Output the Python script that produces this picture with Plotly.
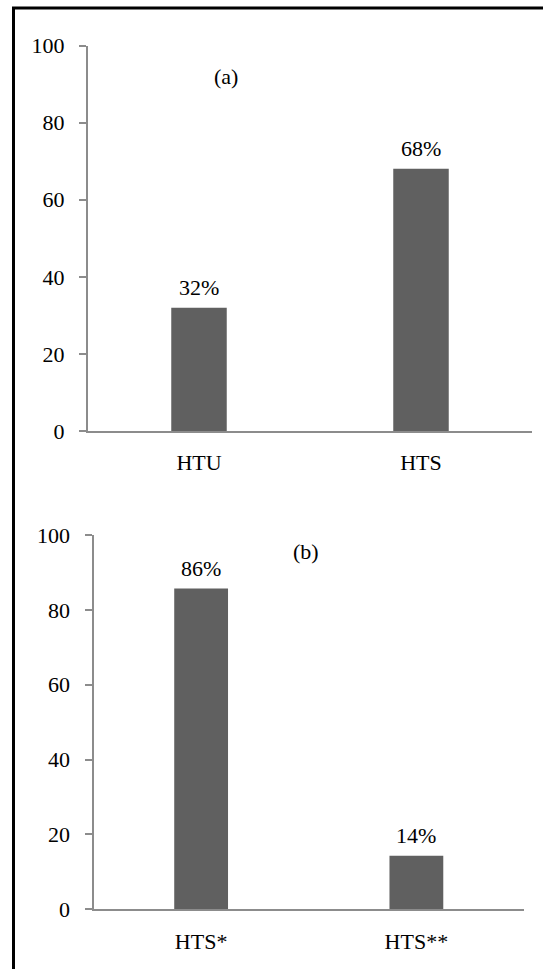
import plotly.graph_objects as go

# Data
cats_a = ["HTU", "HTS"]
vals_a = [32, 68]
cats_b = ["HTS*", "HTS**"]
vals_b = [85.7, 14.3]
y_ticks = [0, 20, 40, 60, 80, 100]
panel_labels = ["(a)", "(b)"]

W, H = 543, 969
FONT = "Liberation Serif"
BAR = "#606060"
AX = "#8c8c8c"

fig = go.Figure()
fig.add_trace(go.Bar(x=cats_a, y=vals_a, marker=dict(color=BAR, line=dict(width=0)),
                     xaxis="x", yaxis="y", showlegend=False, hoverinfo="skip"))
fig.add_trace(go.Bar(x=cats_b, y=vals_b, marker=dict(color=BAR, line=dict(width=0)),
                     xaxis="x2", yaxis="y2", showlegend=False, hoverinfo="skip"))

def px_x(p):
    return p / W

def px_y(p):
    return 1 - p / H

common_x = dict(showline=True, linecolor=AX, linewidth=2, ticks="", showgrid=False,
                zeroline=False, automargin=False,
                tickfont=dict(family=FONT, size=22, color="black"),
                ticklabelstandoff=11)
common_y = dict(showline=True, linecolor=AX, linewidth=2, ticks="outside", ticklen=7,
                tickwidth=2, tickcolor=AX, showgrid=False, zeroline=False,
                automargin=False, range=[0, 100], tickvals=y_ticks,
                tickfont=dict(family=FONT, size=22, color="black"),
                ticklabelstandoff=10)

fig.update_layout(
    template="none",
    width=W, height=H, autosize=False,
    margin=dict(l=0, r=0, t=0, b=0, pad=0),
    paper_bgcolor="white", plot_bgcolor="white",
    bargap=0.75,
    font=dict(family=FONT, size=22, color="black"),
    xaxis=dict(domain=[px_x(88), px_x(532)], anchor="y", **common_x),
    yaxis=dict(domain=[px_y(431), px_y(45.5)], anchor="x", **common_y),
    xaxis2=dict(domain=[px_x(93.5), px_x(524)], anchor="y2", **common_x),
    yaxis2=dict(domain=[px_y(909.3), px_y(535)], anchor="x2", **common_y),
)

annotations = []
for c, v in zip(cats_a, vals_a):
    annotations.append(dict(x=c, y=v, xref="x", yref="y", text=f"{round(v)}%",
                            showarrow=False, yanchor="bottom", yshift=6,
                            font=dict(family=FONT, size=22, color="black")))
for c, v in zip(cats_b, vals_b):
    annotations.append(dict(x=c, y=v, xref="x2", yref="y2", text=f"{round(v)}%",
                            showarrow=False, yanchor="bottom", yshift=6,
                            font=dict(family=FONT, size=22, color="black")))
annotations.append(dict(x=px_x(226), y=px_y(77), xref="paper", yref="paper",
                        xanchor="center", yanchor="middle",
                        text=panel_labels[0], showarrow=False,
                        font=dict(family=FONT, size=22, color="black")))
annotations.append(dict(x=px_x(306), y=px_y(551), xref="paper", yref="paper",
                        xanchor="center", yanchor="middle",
                        text=panel_labels[1], showarrow=False,
                        font=dict(family=FONT, size=22, color="black")))
fig.update_layout(annotations=annotations)

# Outer frame (only left and top edges fall inside the picture)
fig.add_shape(type="line", xref="paper", yref="paper", layer="above",
              x0=px_x(13.5), x1=px_x(13.5), y0=0, y1=px_y(7),
              line=dict(color="black", width=3))
fig.add_shape(type="line", xref="paper", yref="paper", layer="above",
              x0=px_x(12), x1=1.0, y0=px_y(8), y1=px_y(8),
              line=dict(color="black", width=3))

fig.write_html("out.html",
               config={"displayModeBar": False},
               post_script="document.body.style.margin='0';document.body.style.overflow='hidden';")
